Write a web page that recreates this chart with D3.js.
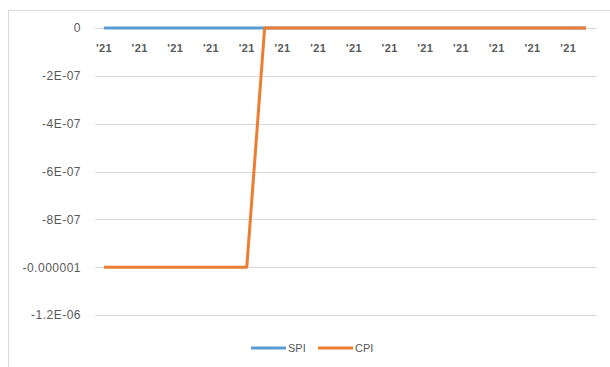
<!DOCTYPE html>
<html>
<head>
<meta charset="utf-8">
<script src="https://cdn.jsdelivr.net/npm/d3@7"></script>
<style>
  body { margin: 0; background: #fff; }
  svg { display: block; font-family: "Liberation Sans", Arial, sans-serif; }
  .tick text { fill: #595959; }
</style>
</head>
<body>
<svg width="610" height="367"></svg>
<script>
// 28 periods, only every other one gets a label
const categories = d3.range(28).map(i => "'21")
const spi = [0,0,0,0,0,0,0,0,0,0,0,0,0,0,0,0,0,0,0,0,0,0,0,0,0,0,0,0]
const cpi = [-1e-6,-1e-6,-1e-6,-1e-6,-1e-6,-1e-6,-1e-6,-1e-6,-1e-6,0,0,0,0,0,0,0,0,0,0,0,0,0,0,0,0,0,0,0]
const yTicks = [0, -2e-7, -4e-7, -6e-7, -8e-7, -1e-6, -1.2e-6]
const yTickLabels = ["0", "-2E-07", "-4E-07", "-6E-07", "-8E-07", "-0.000001", "-1.2E-06"]
const seriesNames = ["SPI", "CPI"]
const colors = ["#5B9BD5", "#ED7D31"]

const svg = d3.select("svg")

// chart frame (runs off the right/bottom edge in the original)
svg.append("rect")
  .attr("x", 8.5).attr("y", 10.5)
  .attr("width", 640).attr("height", 400)
  .attr("fill", "none").attr("stroke", "#D9D9D9")

const x = d3.scaleBand()
  .domain(d3.range(categories.length))
  .range([95, 595])

const y = d3.scaleLinear()
  .domain([-1.2e-6, 0])
  .range([315, 28])

// gridlines
svg.append("g")
  .selectAll("line")
  .data(yTicks)
  .join("line")
  .attr("x1", 95).attr("x2", 597)
  .attr("y1", d => Math.round(y(d)) + 0.5)
  .attr("y2", d => Math.round(y(d)) + 0.5)
  .attr("stroke", "#D9D9D9")

// y axis labels
svg.append("g")
  .attr("transform", "translate(95,0)")
  .call(d3.axisLeft(y).tickValues(yTicks).tickSize(0).tickPadding(14)
    .tickFormat((d, i) => yTickLabels[i]))
  .call(g => g.select(".domain").remove())
  .call(g => g.selectAll("text").attr("font-size", 12).attr("letter-spacing", 0.5))

// category labels sit just under the zero line
svg.append("g")
  .attr("transform", `translate(0,${y(0)})`)
  .call(d3.axisBottom(x).tickValues(d3.range(0, categories.length, 2)).tickSize(0).tickPadding(16)
    .tickFormat(i => categories[i]))
  .call(g => g.select(".domain").remove())
  .call(g => g.selectAll("text").attr("font-size", 11).attr("font-weight", "bold").attr("letter-spacing", 0.4))

const line = d3.line()
  .x((d, i) => x(i) + x.bandwidth() / 2)
  .y(d => y(d))

;[spi, cpi].forEach((s, k) => {
  svg.append("path")
    .datum(s)
    .attr("d", line)
    .attr("fill", "none")
    .attr("stroke", colors[k])
    .attr("stroke-width", 3)
    .attr("stroke-linejoin", "round")
})

// legend
const legend = svg.append("g").attr("transform", "translate(251,348)")
seriesNames.forEach((name, k) => {
  const g = legend.append("g").attr("transform", `translate(${k * 67},0)`)
  g.append("line").attr("x1", 0).attr("x2", 35)
    .attr("stroke", colors[k]).attr("stroke-width", 3)
  g.append("text").attr("x", 37).attr("y", 4)
    .attr("font-size", 11).attr("fill", "#595959")
    .text(name)
})
</script>
</body>
</html>
